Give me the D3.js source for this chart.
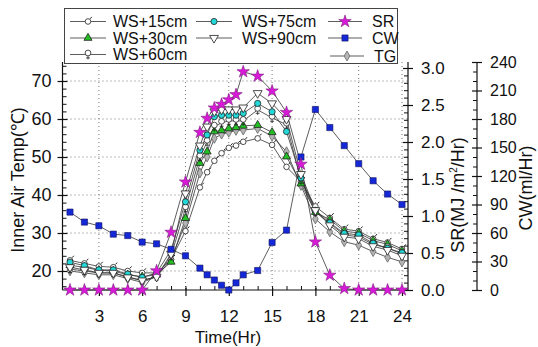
<!DOCTYPE html>
<html><head><meta charset="utf-8">
<script src="https://cdn.jsdelivr.net/npm/d3@7"></script>
<style>body{margin:0;background:#fff} svg{font-family:"Liberation Sans",Arial,sans-serif}</style>
</head><body><svg id="c" width="538" height="347"></svg>
<script>
// ---- data ----
const hours = [1,2,3,4,5,6,7,8,9,10,10.5,11,11.5,12,12.5,13,14,15,16,17,18,19,20,21,22,23,24];
const ws15 = [22.8,22,21.2,21,20,19.5,19.5,23,30.5,42,46,49,51,52.4,53,54,54.9,53.2,47.4,43.5,37,34,31,30.5,28.5,27.5,25.8];
const ws30 = [21.5,21,20.2,20,19,18.5,19,22.4,33.9,48.4,51.4,56.7,57,57.5,57.8,58.2,58.4,56.5,50.1,43,35.5,33.5,30.5,30,28,27,25.3];
const ws60 = [20.5,20,19.5,19.5,18.5,17.5,18.5,24,36.5,50,54,58,59,59.5,59.5,59.5,62.4,60.3,58.5,44,35.5,32.5,29.5,29,27,26,24.5];
const ws75 = [22.3,21.4,20.3,20.3,19.2,18.3,19.5,25.5,38.2,51.8,55.8,60.6,61,61,61,61.5,64.1,61.9,56.7,44.5,36,32.7,29.9,29.5,27.3,26,24.8];
const ws90 = [21,20.3,19.5,19.5,18.3,17.5,18.5,24.5,40.4,53,58,62,62.5,62.5,62.5,63,66.8,64.1,60,45.5,36,32,29,28.5,26.5,25.5,24];
const tg   = [20,19.5,19,19,18,17,18.5,23,32.6,45.8,50,54.9,56,56.5,57,57.1,57.5,55.5,51.4,42.5,33.7,30.3,27.7,26.8,25.1,23.6,22.4];
const sr   = [0,0,0,0,0,0,0.26,0.78,1.46,2.13,2.32,2.46,2.51,2.57,2.64,2.95,2.89,2.69,2.40,1.70,0.65,0.20,0.02,0,0,0,0];
const cw   = [82,71.5,67.6,58.8,57.3,50.4,48.6,42.8,36,23,16,10.5,5,0,7.5,16,20.5,50,63,140,190,171,152,133,115,101,90];
const xTicks = [3,6,9,12,15,18,21,24];
const tTicks = [20,30,40,50,60,70];
const srTicks = [0,0.5,1,1.5,2,2.5,3];
const cwTicks = [0,30,60,90,120,150,180,210,240];

// ---- layout ----
const svg = d3.select('#c');
const L = 62.5, R = 408, T = 62, B = 290;
const x = d3.scaleLinear().domain([1,24]).range([70,402]);
const yT = d3.scaleLinear().domain([15,75]).range([B,T]);
const ySR = d3.scaleLinear().domain([0,3]).range([B,68]);
const yCW = d3.scaleLinear().domain([0,240]).range([B,T]);
const FS = 17;

// grid
const grid = svg.append('g').attr('stroke','#777').attr('stroke-width',1).attr('stroke-dasharray','1,3');
tTicks.forEach(v=>grid.append('line').attr('x1',L).attr('x2',R).attr('y1',yT(v)).attr('y2',yT(v)));
xTicks.forEach(v=>grid.append('line').attr('x1',x(v)).attr('x2',x(v)).attr('y1',T).attr('y2',B));

function styleAxis(g,fs){ g.select('.domain').remove(); g.selectAll('line').attr('stroke','#111').attr('stroke-width',1.2); g.selectAll('text').attr('font-size',fs||FS).attr('fill','#111').attr('font-family','"Liberation Sans",Arial,sans-serif'); }
function axisLine(x1,y1,x2,y2){ svg.append('line').attr('x1',x1).attr('x2',x2).attr('y1',y1).attr('y2',y2).attr('stroke','#111').attr('stroke-width',1.2); }

// left axis
axisLine(L,T,L,B);
let g = svg.append('g').attr('transform',`translate(${L},0)`).call(d3.axisLeft(yT).tickValues(d3.range(16,75,2)).tickSize(-4).tickFormat(''));
styleAxis(g); g.selectAll('line').attr('stroke-width',1);
g = svg.append('g').attr('transform',`translate(${L},0)`).call(d3.axisLeft(yT).tickValues(tTicks).tickSize(5));
styleAxis(g,18); g.selectAll('line').attr('x2',5).attr('x1',-5);
g.selectAll('text').attr('x',-11);

// bottom axis
axisLine(L,B,R,B);
g = svg.append('g').attr('transform',`translate(0,${B})`).call(d3.axisBottom(x).tickValues(d3.range(1,25)).tickSize(-4).tickFormat(''));
styleAxis(g); g.selectAll('line').attr('stroke-width',1);
g = svg.append('g').attr('transform',`translate(0,${B})`).call(d3.axisBottom(x).tickValues(xTicks).tickSize(6));
styleAxis(g); g.selectAll('line').attr('y1',-2);
g.selectAll('text').attr('y',20);

// SR axis
axisLine(R,T,R,B);
g = svg.append('g').attr('transform',`translate(${R},0)`).call(d3.axisRight(ySR).tickValues(d3.range(0.1,3.0,0.1).filter(v=>Math.abs(v*2-Math.round(v*2))>0.01)).tickSize(-4).tickFormat(''));
styleAxis(g); g.selectAll('line').attr('stroke-width',1);
g = svg.append('g').attr('transform',`translate(${R},0)`).call(d3.axisRight(ySR).tickValues(srTicks).tickSize(5).tickFormat(d3.format('.1f')));
styleAxis(g); g.selectAll('line').attr('x1',-5);
g.selectAll('text').attr('x',13);

// CW axis
const CX = 477;
axisLine(CX,T,CX,B);
g = svg.append('g').attr('transform',`translate(${CX},0)`).call(d3.axisLeft(yCW).tickValues(d3.range(10,240,10).filter(v=>v%30)).tickSize(4).tickFormat(''));
styleAxis(g); g.selectAll('line').attr('stroke-width',1);
g = svg.append('g').attr('transform',`translate(${CX},0)`).call(d3.axisRight(yCW).tickValues(cwTicks).tickSize(5));
styleAxis(g,16); g.selectAll('line').attr('x1',-5);
g.selectAll('text').attr('x',13);

// titles
svg.append('text').attr('transform','translate(24,180) rotate(-90)').attr('text-anchor','middle').attr('font-size',18).attr('fill','#111').text('Inner Air Temp(℃)');
svg.append('text').attr('x',228).attr('y',343).attr('text-anchor','middle').attr('font-size',FS).attr('fill','#111').text('Time(Hr)');
const srT = svg.append('text').attr('transform','translate(464,195) rotate(-90)').attr('text-anchor','middle').attr('font-size',18).attr('fill','#111');
srT.append('tspan').text('SR(MJ /m');
srT.append('tspan').attr('font-size',10).attr('dy',-7).text('2');
srT.append('tspan').attr('dy',7).text('/Hr)');
svg.append('text').attr('transform','translate(532,188) rotate(-90)').attr('text-anchor','middle').attr('font-size',18).attr('fill','#111').text('CW(ml/Hr)');

// markers
function marker(sel,type){
  const st='#222', sw=0.8;
  if(type==='ws15'){
    sel.append('circle').attr('r',2.8).attr('fill','#fff').attr('stroke',st).attr('stroke-width',sw);
    sel.append('line').attr('x1',2.3).attr('y1',-2.8).attr('x2',3.8).attr('y2',-4.6).attr('stroke',st).attr('stroke-width',1);
  } else if(type==='ws30'){
    sel.append('path').attr('d',d3.symbol(d3.symbolTriangle,28)()).attr('fill','#22c022').attr('stroke',st).attr('stroke-width',sw);
  } else if(type==='ws60'){
    sel.append('circle').attr('cy',-1.5).attr('r',2.9).attr('fill','#fff').attr('stroke',st).attr('stroke-width',sw);
    sel.append('line').attr('x1',0).attr('y1',1.4).attr('x2',0).attr('y2',5).attr('stroke',st).attr('stroke-width',sw);
    sel.append('line').attr('x1',-2).attr('y1',3.4).attr('x2',2).attr('y2',3.4).attr('stroke',st).attr('stroke-width',sw);
  } else if(type==='ws75'){
    sel.append('circle').attr('r',3.1).attr('fill','#22d8d8').attr('stroke',st).attr('stroke-width',sw);
  } else if(type==='ws90'){
    sel.append('path').attr('d',d3.symbol(d3.symbolTriangle,34)()).attr('transform','rotate(180)').attr('fill','#fff').attr('stroke',st).attr('stroke-width',sw);
  } else if(type==='sr'){
    sel.append('path').attr('d',d3.symbol(d3.symbolStar,48)()).attr('fill','#d81ad8').attr('stroke','#802080').attr('stroke-width',0.6);
  } else if(type==='cw'){
    sel.append('path').attr('d',d3.symbol(d3.symbolSquare,38)()).attr('fill','#1428d8').attr('stroke','#101060').attr('stroke-width',0.6);
  } else if(type==='tg'){
    sel.append('path').attr('d',d3.symbol(d3.symbolDiamond,28)()).attr('fill','#b4b4b4').attr('stroke','#666').attr('stroke-width',sw);
  }
}

const series = [
  {name:'TG', vals:tg, type:'tg', y:yT},
  {name:'WS+15cm', vals:ws15, type:'ws15', y:yT},
  {name:'WS+30cm', vals:ws30, type:'ws30', y:yT},
  {name:'WS+60cm', vals:ws60, type:'ws60', y:yT},
  {name:'WS+75cm', vals:ws75, type:'ws75', y:yT},
  {name:'WS+90cm', vals:ws90, type:'ws90', y:yT},
  {name:'CW', vals:cw, type:'cw', y:yCW},
  {name:'SR', vals:sr, type:'sr', y:ySR},
];
series.forEach(s=>{
  const line = d3.line().x((d,i)=>x(hours[i])).y(d=>s.y(d));
  svg.append('path').attr('d',line(s.vals)).attr('fill','none').attr('stroke','#333').attr('stroke-width',0.8);
});
series.forEach(s=>{
  s.vals.forEach((v,i)=>{
    const m = svg.append('g').attr('transform',`translate(${x(hours[i])},${s.y(v)})`);
    marker(m,s.type);
  });
});

// legend
const lg = svg.append('g');
lg.append('rect').attr('x',64.5).attr('y',8.5).attr('width',333).attr('height',55).attr('fill','#fff').attr('stroke','#444').attr('stroke-width',1);
const legendItems = [
  {name:'WS+15cm', type:'ws15', lx:70, mx:88, tx:113, y:21.5},
  {name:'WS+30cm', type:'ws30', lx:70, mx:88, tx:113, y:38},
  {name:'WS+60cm', type:'ws60', lx:70, mx:88, tx:113, y:54.5},
  {name:'WS+75cm', type:'ws75', lx:196, mx:214, tx:242, y:21.5},
  {name:'WS+90cm', type:'ws90', lx:196, mx:214, tx:242, y:38},
  {name:'SR', type:'sr', lx:328, mx:345, tx:372, y:21.5},
  {name:'CW', type:'cw', lx:328, mx:345, tx:372, y:38},
  {name:'TG', type:'tg', lx:330, mx:347, tx:374, y:56},
];
legendItems.forEach(d=>{
  lg.append('line').attr('x1',d.lx).attr('x2',d.lx+(d.mx-d.lx)*2).attr('y1',d.y).attr('y2',d.y).attr('stroke','#333').attr('stroke-width',0.8);
  marker(lg.append('g').attr('transform',`translate(${d.mx},${d.y})`), d.type);
  lg.append('text').attr('x',d.tx).attr('y',d.y).attr('dy','0.36em').attr('font-size',16).attr('fill','#111').text(d.name);
});
</script></body></html>
